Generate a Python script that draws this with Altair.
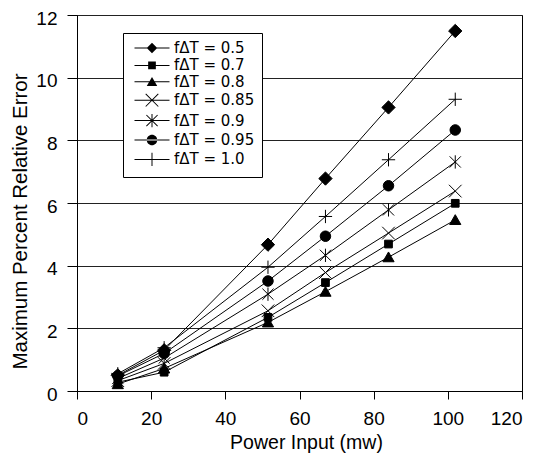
import altair as alt
import pandas as pd

# ---- data ----
power = [11, 23.5, 51.5, 67, 84, 102]
series_labels = ["fΔT = 0.5", "fΔT = 0.7", "fΔT = 0.8", "fΔT = 0.85",
                 "fΔT = 0.9", "fΔT = 0.95", "fΔT = 1.0"]
err_05 = [0.50, 1.30, 4.67, 6.78, 9.05, 11.49]
err_07 = [0.28, 0.60, 2.35, 3.46, 4.69, 5.99]
err_08 = [0.22, 0.72, 2.19, 3.17, 4.27, 5.46]
err_085 = [0.33, 0.88, 2.56, 3.78, 5.04, 6.38]
err_09 = [0.40, 1.05, 3.09, 4.33, 5.78, 7.31]
err_095 = [0.48, 1.20, 3.51, 4.94, 6.55, 8.33]
err_10 = [0.55, 1.38, 3.95, 5.57, 7.38, 9.31]
x_ticks = [0, 20, 40, 60, 80, 100, 120]
y_ticks = [0, 2, 4, 6, 8, 10, 12]

all_series = [err_05, err_07, err_08, err_085, err_09, err_095, err_10]
rows = []
for lab, vals in zip(series_labels, all_series):
    for xv, yv in zip(power, vals):
        rows.append({"series": lab, "power": xv, "err": yv})
df = pd.DataFrame(rows)

# marker shapes for the plot (unit-square paths, stroked + filled)
marker_paths = [
    "M0,-0.95L0.95,0L0,0.95L-0.95,0Z",                       # diamond
    "M-0.55,-0.55H0.55V0.55H-0.55Z",                         # square
    "M0,-0.75L0.8,0.65L-0.8,0.65Z",                          # triangle
    "M-0.9,-0.9L0.9,0.9M-0.9,0.9L0.9,-0.9",                  # x
    "M-0.8,-0.8L0.8,0.8M-0.8,0.8L0.8,-0.8M0,-0.95V0.95",      # asterisk
    "M-0.75,0A0.75,0.75 0 1,0 0.75,0A0.75,0.75 0 1,0 -0.75,0Z",  # circle
    "M-0.95,0H0.95M0,-0.95V0.95",                            # plus
]

# legend symbols: fill-only shapes (thin bars replace strokes)
t = 0.07
a = 0.05
hline = f"M-2.5,{-t}H2.5V{t}H-2.5Z"
vbar = f"M{-t},-0.95H{t}V0.95H{-t}Z"
d1 = f"M{-0.9+a},{-0.9-a}L{0.9+a},{0.9-a}L{0.9-a},{0.9+a}L{-0.9-a},{-0.9+a}Z"
d2 = f"M{-0.9-a},{0.9-a}L{0.9-a},{-0.9-a}L{0.9+a},{-0.9+a}L{-0.9+a},{0.9+a}Z"
e1 = f"M{-0.8+a},{-0.8-a}L{0.8+a},{0.8-a}L{0.8-a},{0.8+a}L{-0.8-a},{-0.8+a}Z"
e2 = f"M{-0.8-a},{0.8-a}L{0.8-a},{-0.8-a}L{0.8+a},{-0.8+a}L{-0.8+a},{0.8+a}Z"
legend_paths = [
    hline + "M0,-0.75L0.75,0L0,0.75L-0.75,0Z",
    hline + "M-0.55,-0.55H0.55V0.55H-0.55Z",
    hline + "M0,-0.7L0.75,0.6L-0.75,0.6Z",
    hline + d1 + d2,
    hline + e1 + e2 + vbar,
    hline + "M-0.75,0A0.75,0.75 0 1,0 0.75,0A0.75,0.75 0 1,0 -0.75,0Z",
    hline + vbar,
]

FONT = "Liberation Sans, Arial, sans-serif"

x_enc = alt.X("power:Q", title="Power Input (mw)",
              scale=alt.Scale(domain=[0, 120], nice=False),
              axis=alt.Axis(values=x_ticks, grid=False, tickSize=8,
                            labelPadding=10, titlePadding=5,
                            titleFontSize=19.5, titleX=229))
y_enc = alt.Y("err:Q", title="Maximum Percent Relative Error",
              scale=alt.Scale(domain=[0, 12], nice=False),
              axis=alt.Axis(values=y_ticks, grid=True, tickSize=10,
                            labelPadding=10, labelOffset=3, titlePadding=5,
                            titleFontSize=20.5, titleY=206))

lines = alt.Chart(df).mark_line(color="black", strokeWidth=1).encode(
    x=x_enc, y=y_enc, detail="series:N")

points = alt.Chart(df).mark_point(filled=True, fill="black", stroke="black",
                                  strokeWidth=1, size=196, opacity=1).encode(
    x=x_enc, y=y_enc,
    shape=alt.Shape("series:N", legend=None,
                    scale=alt.Scale(domain=series_labels, range=marker_paths)))

legend_layer = alt.Chart(df).transform_filter("false").mark_point(
    filled=True, fill="black", size=196, opacity=1
).encode(
    shape=alt.Shape("series:N",
                    scale=alt.Scale(domain=series_labels, range=legend_paths),
                    legend=alt.Legend(
                        title=None, orient="none", legendX=46, legendY=18,
                        fillColor="white", strokeColor="black", padding=7,
                        labelFont="DejaVu Sans", labelFontSize=15, labelColor="black",
                        labelExpr="datum.label + ' '",
                        symbolSize=196, symbolOffset=14, labelOffset=14,
                        rowPadding=0.4, symbolFillColor="black",
                        symbolOpacity=1)))

chart = alt.layer(lines, points, legend_layer).resolve_scale(
    shape="independent"
).properties(
    width=445, height=376,
    autosize=alt.AutoSizeParams(type="none"),
    padding={"left": 69, "top": 7, "right": 16, "bottom": 65},
).configure_view(
    stroke="black", strokeWidth=1
).configure_axis(
    labelFont=FONT, titleFont=FONT, labelFontSize=19, titleFontSize=19,
    titleFontWeight="normal", labelColor="black", titleColor="black",
    domainColor="black", tickColor="black", gridColor="#222222", gridWidth=1,
    domainWidth=1, tickWidth=1
)

chart.save("out.html", embed_options={"renderer": "svg", "actions": False})
